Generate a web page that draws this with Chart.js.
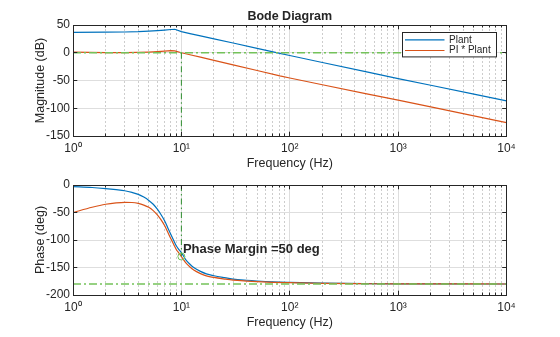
<!DOCTYPE html>
<html lang="en">
<head>
<meta charset="utf-8">
<title>Bode Diagram</title>
<script src="https://cdn.jsdelivr.net/npm/chart.js@4.4.1/dist/chart.umd.min.js"></script>
<style>
  html, body { margin: 0; padding: 0; background: #ffffff; }
  #figure { position: relative; width: 560px; height: 337px; overflow: hidden; background: #ffffff; }
  #figure canvas { position: absolute; left: 0; top: 0; }
</style>
</head>
<body>
<div id="figure">
  <canvas id="magnitude" width="560" height="337"></canvas>
  <canvas id="phase" width="560" height="337"></canvas>
</div>
<script>
// ---- Magnitude response: frequency (Hz) and gain (dB) ----
const magFreqHz  = [1, 2, 3, 4, 5, 6, 7, 8, 8.7, 10, 12, 15, 20, 30, 50, 81, 100, 200, 500, 1000, 2000, 5000, 10000];
const plantMagDb = [36.8, 37.0, 37.4, 38.0, 38.9, 39.9, 40.9, 41.9, 42.3, 38.0, 34.6, 30.4, 25.1, 17.5, 8.0, -1.0, -5.0, -17.5, -34.0, -46.5, -58.6, -74.6, -86.7];
const loopMagDb  = [1.2, 0.3, 0.3, 0.7, 1.3, 2.1, 3.0, 3.8, 3.3, 0.0, -3.6, -8.0, -13.8, -21.9, -32.0, -41.8, -45.5, -57.7, -73.6, -85.5, -97.6, -113.8, -126.0];

// ---- Phase response: frequency (Hz) and phase (deg) ----
const phaseFreqHz   = [1, 1.5, 2, 2.5, 3, 3.5, 4, 4.5, 5, 5.5, 6, 6.5, 7, 7.5, 8, 8.5, 9, 9.5, 10, 11, 12, 13, 15, 17, 20, 25, 30, 40, 50, 70, 100, 200, 500, 1000, 3000, 10000];
const plantPhaseDeg = [-3, -4.5, -6.5, -8.5, -10.5, -13.5, -17, -22, -28, -35, -44, -54, -65, -78, -90, -101, -111, -117.5, -123, -136, -144, -150, -157, -161.5, -165, -168.5, -171, -173.2, -174.5, -176, -177, -178.5, -179.4, -179.7, -179.9, -180];
const loopPhaseDeg  = [-50, -40.5, -35, -32.5, -31.5, -31.8, -33.5, -36.5, -40.5, -46.5, -54.3, -63.5, -73.8, -86.1, -97.6, -108.2, -117.8, -123.9, -130, -141.6, -149.1, -154.7, -161.1, -165.1, -168.1, -171, -173, -174.7, -175.7, -176.9, -177.6, -178.8, -179.5, -179.8, -179.9, -180];

const seriesNames = ['Plant', 'PI * Plant'];

// ---- Crossover / stability margin markers ----
const crossoverHz = 10;
const crossoverDb = 0;
const phaseAtCrossoverDeg = -130;
const phaseMarginDeg = 50;
const phaseFloorDeg = -180;
const marginLabelDeg = -118;

// ---- Axis ticks ----
const freqDecades    = [1, 10, 100, 1000, 10000];
const freqTickLabels = ['10\u2070', '10\u00B9', '10\u00B2', '10\u00B3', '10\u2074'];
const magTicksDb     = [-150, -100, -50, 0, 50];
const phaseTicksDeg  = [-200, -150, -100, -50, 0];

// ---- Styling ----
const FONT = '"Liberation Sans", Arial, Helvetica, sans-serif';
const INK = '#262626';
const BLUE = '#0072BD';
const ORANGE = '#D95319';
const GUIDE_LIGHT = '#74C25A';
const GUIDE_DARK = '#2F8F2F';
const MAJOR_GRID = '#DEDEDE';
const MINOR_GRID = '#CDCDCD';

const toPoints = (xs, ys) => xs.map((x, i) => ({ x, y: ys[i] }));
const isDecade = v => freqDecades.includes(v);
const align = p => Math.round(p - 0.5) + 0.5;

// gridline positions 1..9 within every decade
const freqGridTicks = [];
freqDecades.forEach((d, i) => {
  if (i === freqDecades.length - 1) { freqGridTicks.push(d); return; }
  for (let m = 1; m < 10; m++) freqGridTicks.push(m * d);
});

function freqAxis() {
  return {
    type: 'logarithmic',
    min: freqDecades[0],
    max: freqDecades[freqDecades.length - 1],
    afterBuildTicks: s => { s.ticks = freqGridTicks.map(v => ({ value: v, major: isDecade(v) })); },
    afterFit: s => { s.height = 36; },
    ticks: {
      autoSkip: false, maxRotation: 0, minRotation: 0, padding: 5.5,
      color: INK, font: { family: FONT, size: 12 },
      callback: v => { const i = freqDecades.indexOf(v); return i >= 0 ? freqTickLabels[i] : ''; }
    },
    grid: {
      drawTicks: false, lineWidth: 1,
      color: c => (c.tick && !isDecade(c.tick.value)) ? MINOR_GRID : MAJOR_GRID
    },
    border: {
      display: false,
      dash: c => (c.tick && !isDecade(c.tick.value)) ? [2, 2] : []
    },
    title: {
      display: true, text: 'Frequency (Hz)', color: INK,
      font: { family: FONT, size: 12.5 }, padding: { top: 0, bottom: 0.5 }
    }
  };
}

function valueAxis(tickValues, label) {
  return {
    type: 'linear',
    min: tickValues[0],
    max: tickValues[tickValues.length - 1],
    afterBuildTicks: s => { s.ticks = tickValues.map(v => ({ value: v })); },
    afterFit: s => { s.width = 73; },
    ticks: { padding: 3, color: INK, font: { family: FONT, size: 12 } },
    grid: { drawTicks: false, color: MAJOR_GRID, lineWidth: 1 },
    border: { display: false },
    title: {
      display: true, text: label, color: INK,
      font: { family: FONT, size: 12.5 }, padding: { top: 32.8, bottom: 0 }
    }
  };
}

// Box around the axes with inward tick marks on all four sides
const axesFrame = {
  id: 'axesFrame',
  afterDatasetsDraw(chart) {
    const { ctx, chartArea: a, scales: { x, y } } = chart;
    ctx.save();
    ctx.strokeStyle = INK;
    ctx.lineWidth = 1;
    ctx.setLineDash([]);
    ctx.beginPath();
    x.ticks.forEach(t => {
      const px = align(x.getPixelForValue(t.value));
      const len = isDecade(t.value) ? 4.3 : 2.5;
      ctx.moveTo(px, a.bottom); ctx.lineTo(px, a.bottom - len);
      ctx.moveTo(px, a.top); ctx.lineTo(px, a.top + len);
    });
    y.ticks.forEach(t => {
      const py = align(y.getPixelForValue(t.value));
      ctx.moveTo(a.left, py); ctx.lineTo(a.left + 4.3, py);
      ctx.moveTo(a.right, py); ctx.lineTo(a.right - 4.3, py);
    });
    ctx.stroke();
    const l = align(a.left), r = align(a.right), t = align(a.top), b = align(a.bottom);
    ctx.strokeRect(l, t, r - l, b - t);
    ctx.restore();
  }
};

// Figure title above the magnitude axes
const figureTitle = {
  id: 'figureTitle',
  afterDraw(chart) {
    const { ctx, chartArea: a } = chart;
    ctx.save();
    ctx.font = `bold 12.5px ${FONT}`;
    ctx.fillStyle = INK;
    ctx.textAlign = 'center';
    ctx.textBaseline = 'alphabetic';
    ctx.fillText('Bode Diagram', (a.left + a.right) / 2, a.top - 4.7);
    ctx.restore();
  }
};

// Boxed legend in the upper-right corner with line samples
const boxedLegend = {
  id: 'boxedLegend',
  afterDraw(chart) {
    const { ctx, chartArea: a } = chart;
    const entries = chart.data.datasets.filter(d => d.inLegend);
    ctx.save();
    ctx.font = `10px ${FONT}`;
    const textW = Math.max(...entries.map(e => ctx.measureText(e.label).width));
    const rowH = 10.7;
    const boxW = 46.5 + textW + 6;
    const boxH = entries.length * rowH + 3;
    const right = align(a.right - 10);
    const left = Math.round(right - boxW) + 0.5;
    const top = align(a.top + 7.5);
    ctx.fillStyle = '#ffffff';
    ctx.fillRect(left, top, right - left, boxH);
    ctx.strokeStyle = INK;
    ctx.lineWidth = 1;
    ctx.strokeRect(left, top, right - left, boxH);
    entries.forEach((e, i) => {
      const yy = top + 7.3 + i * rowH;
      ctx.strokeStyle = e.borderColor;
      ctx.lineWidth = 1.2;
      ctx.beginPath();
      ctx.moveTo(left + 2.5, yy);
      ctx.lineTo(left + 42, yy);
      ctx.stroke();
      ctx.fillStyle = INK;
      ctx.textAlign = 'left';
      ctx.textBaseline = 'middle';
      ctx.fillText(e.label, left + 46.5, yy);
    });
    ctx.restore();
  }
};

// Phase-margin annotation next to the crossover marker
const marginNote = {
  id: 'marginNote',
  afterDatasetsDraw(chart) {
    const { ctx, scales: { x, y } } = chart;
    ctx.save();
    ctx.font = `bold 13px ${FONT}`;
    ctx.fillStyle = INK;
    ctx.textAlign = 'left';
    ctx.textBaseline = 'middle';
    ctx.fillText(`Phase Margin =${phaseMarginDeg} deg`, x.getPixelForValue(crossoverHz) + 1.5, y.getPixelForValue(marginLabelDeg));
    ctx.restore();
  }
};

const commonOptions = (padding, yTicks, yLabel) => ({
  responsive: false,
  animation: false,
  devicePixelRatio: 1,
  events: [],
  layout: { padding },
  plugins: { legend: { display: false }, tooltip: { enabled: false } },
  elements: { point: { radius: 0 }, line: { borderCapStyle: 'butt' } },
  scales: { x: freqAxis(), y: valueAxis(yTicks, yLabel) }
});

const curve = (label, xs, ys, color, order, smooth) => ({
  label, data: toPoints(xs, ys), borderColor: color, borderWidth: 1.2,
  pointRadius: 0, fill: false, order, inLegend: true,
  tension: 0, cubicInterpolationMode: smooth ? 'monotone' : 'default'
});

const guide = (label, pts, color, width, dash, order) => ({
  label, data: pts, borderColor: color, borderWidth: width, borderDash: dash,
  pointRadius: 0, fill: false, order, tension: 0
});

const fMin = freqDecades[0];
const fMax = freqDecades[freqDecades.length - 1];

new Chart(document.getElementById('magnitude'), {
  type: 'line',
  data: {
    datasets: [
      curve(seriesNames[0], magFreqHz, plantMagDb, BLUE, 3, false),
      curve(seriesNames[1], magFreqHz, loopMagDb, ORANGE, 2, false),
      guide('0 dB', [{ x: fMin, y: crossoverDb }, { x: fMax, y: crossoverDb }], GUIDE_LIGHT, 1.6, [8, 3, 2, 3], 1),
      guide('crossover', [{ x: crossoverHz, y: crossoverDb }, { x: crossoverHz, y: magTicksDb[0] }], GUIDE_DARK, 1, [6, 3, 1.5, 3], 0)
    ]
  },
  options: commonOptions({ top: 25, bottom: 165, left: 0, right: 53.5 }, magTicksDb, 'Magnitude (dB)'),
  plugins: [axesFrame, figureTitle, boxedLegend]
});

new Chart(document.getElementById('phase'), {
  type: 'line',
  data: {
    datasets: [
      curve(seriesNames[0], phaseFreqHz, plantPhaseDeg, BLUE, 3, true),
      curve(seriesNames[1], phaseFreqHz, loopPhaseDeg, ORANGE, 2, true),
      guide('-180 deg', [{ x: fMin, y: phaseFloorDeg }, { x: fMax, y: phaseFloorDeg }], GUIDE_LIGHT, 1.6, [8, 3, 2, 3], 1),
      guide('crossover', [{ x: crossoverHz, y: phaseTicksDeg[phaseTicksDeg.length - 1] }, { x: crossoverHz, y: phaseAtCrossoverDeg }], GUIDE_DARK, 1, [6, 3, 1.5, 3], 0),
      {
        label: 'phase at crossover', data: [{ x: crossoverHz, y: phaseAtCrossoverDeg }],
        showLine: false, pointRadius: 3.5, pointStyle: 'circle',
        pointBorderColor: GUIDE_LIGHT, pointBackgroundColor: 'rgba(0,0,0,0)', pointBorderWidth: 1, order: -1
      }
    ]
  },
  options: commonOptions({ top: 185, bottom: 6, left: 0, right: 53.5 }, phaseTicksDeg, 'Phase (deg)'),
  plugins: [axesFrame, marginNote]
});
</script>
</body>
</html>
